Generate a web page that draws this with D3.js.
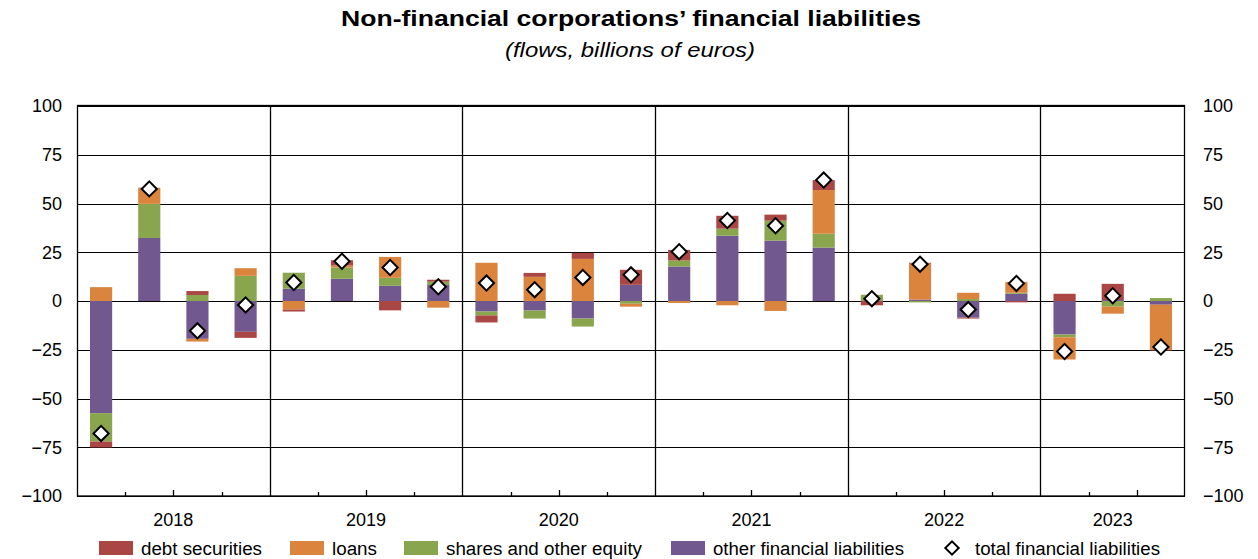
<!DOCTYPE html>
<html><head><meta charset="utf-8">
<script src="https://cdn.jsdelivr.net/npm/d3@7"></script>
<style>
body{margin:0;background:#fff;}
text{font-family:"Liberation Sans",Arial,sans-serif;fill:#000;}
</style></head>
<body><svg id="c" width="1258" height="559"></svg>
<script>
const quarters = ["2018Q1","2018Q2","2018Q3","2018Q4","2019Q1","2019Q2","2019Q3","2019Q4","2020Q1","2020Q2","2020Q3","2020Q4","2021Q1","2021Q2","2021Q3","2021Q4","2022Q1","2022Q2","2022Q3","2022Q4","2023Q1","2023Q2","2023Q3"];
const years = ["2018","2019","2020","2021","2022","2023"];
const debtSecurities = [-3, 0, 2, -3.1, -1, 2.7, -4.8, 1, -3.6, 2, 3.1, 7.7, 5.4, 6.6, 3.1, 5.1, -2.2, 0.5, -0.5, -0.7, 3.7, 8.3, -0.5];
const loans = [7.1, 8.3, -1.4, 3.9, -4.4, 1, 10.7, -3.4, 19.6, 12.4, 21.6, -1.5, -1, -2.2, -5.1, 22.4, 0, 18.4, 3.2, 5.6, -11.4, -3.6, -23];
const sharesEquity = [-14.6, 17.5, 3.1, 12.9, 8.2, 5.8, 4.1, 1.7, -2, -4.1, -4.1, -1.4, 3.1, 3.6, 10.2, 7.1, 3.2, -0.7, 1, 0.5, -1.4, -2.9, 1.5];
const otherLiabilities = [-57.5, 32.3, -19.4, -15.8, 6.3, 11.4, 7.8, 8.2, -5.4, -4.9, -9, 8.3, 17.7, 33.5, 31, 27.4, 0, 0.7, -8.5, 3.7, -17.2, 0.5, -1.9];
const totalLiabilities = [-67.9, 57.5, -15.3, -2, 9.5, 20.4, 17.2, 7.3, 9.2, 5.8, 12.1, 13.4, 25.3, 41.3, 38.6, 62, 1.2, 18.9, -4.4, 9, -25.9, 2.7, -23.6];
const yTicks = [-100,-75,-50,-25,0,25,50,75,100];
const seriesNames = ["debt securities","loans","shares and other equity","other financial liabilities","total financial liabilities"];

const colors = {debt:"#AA4643", loans:"#DB843D", shares:"#89A54E", other:"#71588F"};
const svg = d3.select("#c");
const L=77, R=1185, T=106, B=496;

const rows = quarters.map((q,i)=>({q, debt:debtSecurities[i], loans:loans[i], shares:sharesEquity[i], other:otherLiabilities[i], total:totalLiabilities[i]}));
const keys = ["other","shares","loans","debt"];
const stack = d3.stack().keys(keys).offset(d3.stackOffsetDiverging)(rows);

const x = d3.scaleBand().domain(quarters).range([L,R]).paddingInner(0.54).paddingOuter(0.27);
const y = d3.scaleLinear().domain([-100,100]).range([B,T]);

// title
svg.append("text").attr("x",631).attr("y",26).attr("text-anchor","middle")
  .attr("textLength",580).attr("lengthAdjust","spacingAndGlyphs")
  .style("font-size","22px").style("font-weight","bold").text("Non-financial corporations’ financial liabilities");
svg.append("text").attr("x",630).attr("y",57).attr("text-anchor","middle")
  .attr("textLength",250).attr("lengthAdjust","spacingAndGlyphs")
  .style("font-size","20px").style("font-style","italic").text("(flows, billions of euros)");

// gridlines
svg.append("g").selectAll("line").data(yTicks).join("line")
  .attr("x1",L).attr("x2",R).attr("y1",d=>Math.round(y(d))+0.5).attr("y2",d=>Math.round(y(d))+0.5)
  .attr("stroke","#000").attr("stroke-width",1);

// axes labels
const fmt = d=>d<0?"\u2212"+Math.abs(d):d;
const yl = d3.axisLeft(y).tickValues(yTicks).tickSize(0).tickPadding(15).tickFormat(fmt);
const gl = svg.append("g").attr("transform",`translate(${L},0)`).call(yl);
gl.select(".domain").remove();
gl.selectAll("text").style("font-size","18px").style("font-family","'Liberation Sans',Arial,sans-serif").attr("fill","#000");
const yr = d3.axisRight(y).tickValues(yTicks).tickSize(0).tickPadding(18).tickFormat(fmt);
const gr = svg.append("g").attr("transform",`translate(${R},0)`).call(yr);
gr.select(".domain").remove();
gr.selectAll("text").style("font-size","18px").style("font-family","'Liberation Sans',Arial,sans-serif").attr("fill","#000");

// bars
svg.append("g").selectAll("g").data(stack).join("g").attr("fill",d=>colors[d.key])
  .selectAll("rect").data(d=>d).join("rect")
  .attr("x",d=>x(d.data.q)).attr("width",x.bandwidth())
  .attr("y",d=>y(Math.max(d[0],d[1]))).attr("height",d=>Math.abs(y(d[0])-y(d[1])));

// year separators and ticks
const step = x.step();
const qEdge = i => L + i*step;
const sepIdx = [4,8,12,16,20];
svg.append("g").selectAll("line").data(sepIdx).join("line")
  .attr("x1",i=>Math.round(qEdge(i))+0.5).attr("x2",i=>Math.round(qEdge(i))+0.5)
  .attr("y1",T).attr("y2",B).attr("stroke","#000").attr("stroke-width",1.3);
const tickIdx = d3.range(1,23).filter(i=>!sepIdx.includes(i));
svg.append("g").selectAll("line").data(tickIdx).join("line")
  .attr("x1",i=>Math.round(qEdge(i))+0.5).attr("x2",i=>Math.round(qEdge(i))+0.5)
  .attr("y1",B).attr("y2",i=>B-((i%4===2)?6:4)).attr("stroke","#000").attr("stroke-width",1.3);

// frame
svg.append("rect").attr("x",L+0.5).attr("y",T-0.5).attr("width",R-L-1).attr("height",B-T+0.5)
  .attr("fill","none").attr("stroke","#000").attr("stroke-width",1.3);

// year labels
svg.append("g").selectAll("text").data(years).join("text")
  .attr("x",(d,i)=>{const a=qEdge(i*4), b=qEdge(Math.min(i*4+4,23)); return (a+b)/2;})
  .attr("y",526).attr("text-anchor","middle").style("font-size","18px").text(d=>d);

// diamonds
const diamond = d3.symbol().type(d3.symbolSquare).size(115);
svg.append("g").selectAll("path").data(rows).join("path")
  .attr("d",diamond)
  .attr("transform",d=>`translate(${x(d.q)+x.bandwidth()/2},${y(d.total)}) rotate(45)`)
  .attr("fill","#fff").attr("stroke","#000").attr("stroke-width",2);

// legend
const legendItems = [
  {name:seriesNames[0], c:colors.debt, x:99, w:121},
  {name:seriesNames[1], c:colors.loans, x:290, w:45},
  {name:seriesNames[2], c:colors.shares, x:404, w:196},
  {name:seriesNames[3], c:colors.other, x:671, w:191},
];
const lg = svg.append("g");
legendItems.forEach(it=>{
  lg.append("rect").attr("x",it.x).attr("y",541).attr("width",34).attr("height",14).attr("fill",it.c);
  lg.append("text").attr("x",it.x+42).attr("y",555).attr("textLength",it.w).attr("lengthAdjust","spacingAndGlyphs")
    .style("font-size","18px").text(it.name);
});
lg.append("path").attr("d",d3.symbol().type(d3.symbolSquare).size(90))
  .attr("transform","translate(952,548) rotate(45)").attr("fill","#fff").attr("stroke","#000").attr("stroke-width",2);
lg.append("text").attr("x",975).attr("y",555).attr("textLength",185).attr("lengthAdjust","spacingAndGlyphs")
  .style("font-size","18px").text(seriesNames[4]);
</script></body></html>
